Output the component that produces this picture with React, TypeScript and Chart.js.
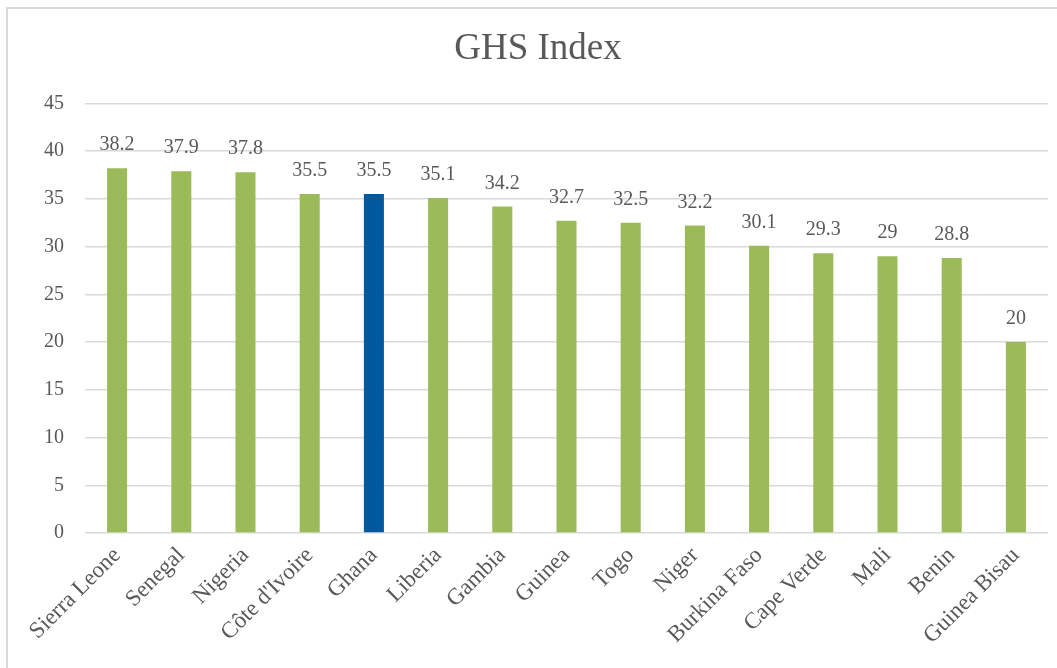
import React, { useEffect, useRef } from "react";
import { Chart, registerables } from "chart.js";

Chart.register(...registerables);

const categories = [
  "Sierra Leone", "Senegal", "Nigeria", "Côte d'Ivoire", "Ghana", "Liberia", "Gambia",
  "Guinea", "Togo", "Niger", "Burkina Faso", "Cape Verde", "Mali", "Benin", "Guinea Bisau",
];
const values = [38.2, 37.9, 37.8, 35.5, 35.5, 35.1, 34.2, 32.7, 32.5, 32.2, 30.1, 29.3, 29, 28.8, 20];
const highlighted = "Ghana";
const yMin = 0;
const yMax = 45;
const yStep = 5;
const titleText = "GHS Index";

const GREEN = "#9BBB59";
const BLUE = "#00589F";
const TEXT = "#595959";
const GRID = "#D9D9D9";
const FONT = "'Liberation Serif', 'Times New Roman', serif";

const dataLabels = {
  id: "dataLabels",
  afterDatasetsDraw(chart: any) {
    const ctx = chart.ctx;
    const meta = chart.getDatasetMeta(0);
    ctx.save();
    ctx.font = `20px ${FONT}`;
    ctx.fillStyle = TEXT;
    ctx.textAlign = "center";
    ctx.textBaseline = "alphabetic";
    meta.data.forEach((bar: any, i: number) => {
      const v = chart.data.datasets[0].data[i];
      ctx.fillText(String(v), bar.x, bar.y - 18);
    });
    ctx.restore();
  },
};

export default function App() {
  const ref = useRef<HTMLCanvasElement | null>(null);
  useEffect(() => {
    if (!ref.current) return;
    const chart = new Chart(ref.current, {
      type: "bar",
      data: {
        labels: categories,
        datasets: [
          {
            data: values,
            backgroundColor: categories.map((c) => (c === highlighted ? BLUE : GREEN)),
            categoryPercentage: 1,
            barPercentage: 0.312,
          },
        ],
      },
      options: {
        animation: false,
        responsive: false,
        maintainAspectRatio: false,
        layout: { padding: { left: 28, right: 9, top: 0, bottom: 0 } },
        plugins: {
          legend: { display: false },
          tooltip: { enabled: false },
          title: {
            display: true,
            text: titleText,
            color: TEXT,
            font: { family: FONT, size: 37, weight: "normal", lineHeight: 1.2 },
            padding: { top: 27, bottom: 32 },
          },
        },
        scales: {
          y: {
            min: yMin,
            max: yMax,
            ticks: {
              stepSize: yStep,
              color: TEXT,
              font: { family: FONT, size: 20 },
              padding: 21,
            },
            grid: { color: GRID, lineWidth: 1.5, drawTicks: false },
            border: { display: false },
            afterFit(scale: any) {
              scale.width = 57;
            },
          },
          x: {
            ticks: {
              color: TEXT,
              font: { family: FONT, size: 23 },
              maxRotation: 45,
              minRotation: 45,
              autoSkip: false,
              padding: 9,
            },
            grid: { display: false, drawTicks: false },
            border: { display: false },
            afterFit(scale: any) {
              scale.height = 135;
            },
          },
        },
      },
      plugins: [dataLabels],
    });
    return () => chart.destroy();
  }, []);

  return (
    <div style={{ position: "fixed", left: 0, top: 0, width: 1057, height: 668, overflow: "hidden", background: "#fff" }}>
      <div
        style={{
          position: "absolute",
          left: 6,
          top: 7,
          width: 1200,
          height: 800,
          border: `2px solid ${GRID}`,
          boxSizing: "border-box",
        }}
      />
      <canvas
        ref={ref}
        width={1057}
        height={668}
        style={{ position: "absolute", left: 0, top: 0, width: 1057, height: 668 }}
      />
    </div>
  );
}
